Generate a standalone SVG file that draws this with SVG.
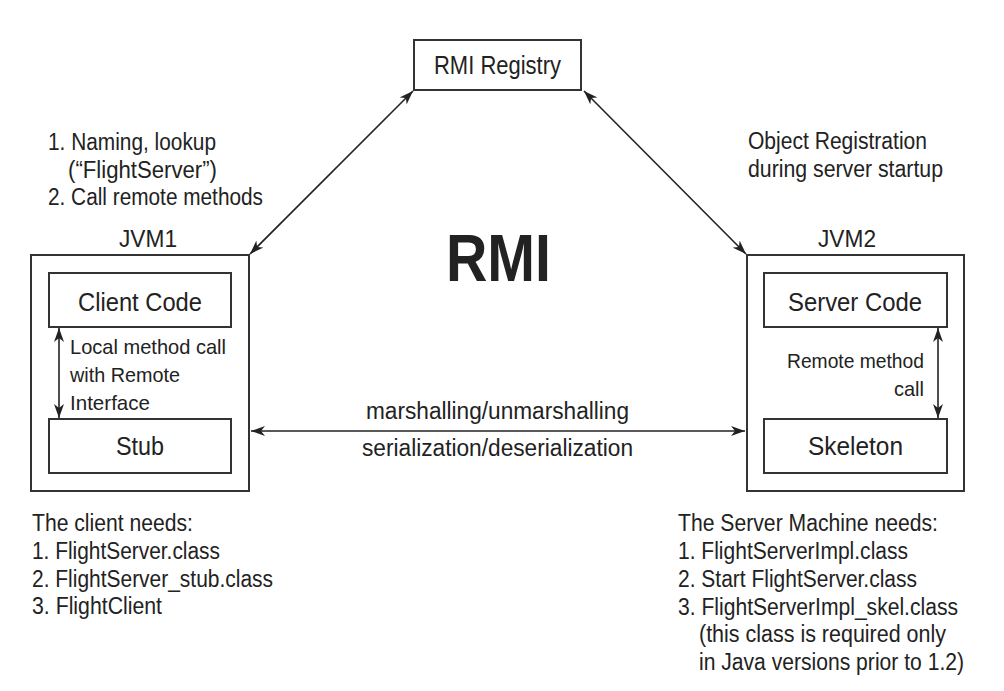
<svg xmlns="http://www.w3.org/2000/svg" width="1004" height="691" viewBox="0 0 1004 691">
<style>
text{font-family:"Liberation Sans Narrow","Liberation Sans",Arial,sans-serif;fill:#222;}
.t{font-size:23px;}
.s{font-size:21px;}
.b{font-size:25px;}
.box{fill:none;stroke:#333;stroke-width:2;}
.ln{stroke:#222;stroke-width:1.6;fill:none;marker-start:url(#ah);marker-end:url(#ah);}
</style>
<defs>
<marker id="ah" viewBox="0 0 14 10" refX="14" refY="5" markerWidth="14" markerHeight="10" markerUnits="userSpaceOnUse" orient="auto-start-reverse">
<path d="M0,0 L14,5 L0,10 L4,5 z" fill="#222"/>
</marker>
</defs>
<rect width="1004" height="691" fill="#fff"/>
<g id="registry">
<rect class="box" x="414" y="40" width="167" height="50"/>
<text class="b" x="434" y="74" textLength="127" lengthAdjust="spacingAndGlyphs">RMI Registry</text>
</g>
<g id="jvm1">
<rect class="box" x="31" y="255" width="218" height="236"/>
<text class="t" x="119" y="247" textLength="58" lengthAdjust="spacingAndGlyphs">JVM1</text>
</g>
<g id="client-code">
<rect class="box" x="49" y="273" width="182" height="54"/>
<text class="b" x="78" y="311" textLength="124" lengthAdjust="spacingAndGlyphs">Client Code</text>
</g>
<g id="stub">
<rect class="box" x="49" y="419" width="182" height="54"/>
<text class="b" x="116" y="455" textLength="48" lengthAdjust="spacingAndGlyphs">Stub</text>
</g>
<g id="jvm2">
<rect class="box" x="747" y="255" width="217" height="236"/>
<text class="t" x="818" y="247" textLength="58" lengthAdjust="spacingAndGlyphs">JVM2</text>
</g>
<g id="server-code">
<rect class="box" x="764" y="273" width="183" height="54"/>
<text class="b" x="788" y="311" textLength="134" lengthAdjust="spacingAndGlyphs">Server Code</text>
</g>
<g id="skeleton">
<rect class="box" x="764" y="419" width="183" height="54"/>
<text class="b" x="808" y="455" textLength="95" lengthAdjust="spacingAndGlyphs">Skeleton</text>
</g>
<g id="connectors">
<line class="ln" x1="250" y1="254" x2="413" y2="91"/>
<line class="ln" x1="584" y1="91" x2="746" y2="254"/>
<line class="ln" x1="59" y1="328" x2="59" y2="418"/>
<line class="ln" x1="938" y1="328" x2="938" y2="418"/>
<line class="ln" x1="251" y1="431" x2="745" y2="431"/>
</g>
<g id="labels">
<text class="t" x="48" y="150" textLength="168" lengthAdjust="spacingAndGlyphs">1. Naming, lookup</text>
<text class="t" x="68" y="178" textLength="149" lengthAdjust="spacingAndGlyphs">(“FlightServer”)</text>
<text class="t" x="48" y="205" textLength="215" lengthAdjust="spacingAndGlyphs">2. Call remote methods</text>
<text class="t" x="748" y="149" textLength="179" lengthAdjust="spacingAndGlyphs">Object Registration</text>
<text class="t" x="748" y="177" textLength="195" lengthAdjust="spacingAndGlyphs">during server startup</text>
<text x="446" y="281" style="font-size:66px;font-weight:bold" textLength="105" lengthAdjust="spacingAndGlyphs">RMI</text>
<text class="s" x="70" y="354" textLength="156" lengthAdjust="spacingAndGlyphs">Local method call</text>
<text class="s" x="70" y="382" textLength="110" lengthAdjust="spacingAndGlyphs">with Remote</text>
<text class="s" x="70" y="410" textLength="80" lengthAdjust="spacingAndGlyphs">Interface</text>
<text class="s" x="787" y="368" textLength="137" lengthAdjust="spacingAndGlyphs">Remote method</text>
<text class="s" x="894" y="396" textLength="30" lengthAdjust="spacingAndGlyphs">call</text>
<text class="t" x="366" y="419" textLength="263" lengthAdjust="spacingAndGlyphs">marshalling/unmarshalling</text>
<text class="t" x="362" y="456" textLength="271" lengthAdjust="spacingAndGlyphs">serialization/deserialization</text>
<text class="t" x="32" y="531" textLength="161" lengthAdjust="spacingAndGlyphs">The client needs:</text>
<text class="t" x="32" y="559" textLength="188" lengthAdjust="spacingAndGlyphs">1. FlightServer.class</text>
<text class="t" x="32" y="587" textLength="241" lengthAdjust="spacingAndGlyphs">2. FlightServer_stub.class</text>
<text class="t" x="32" y="614" textLength="130" lengthAdjust="spacingAndGlyphs">3. FlightClient</text>
<text class="t" x="678" y="531" textLength="260" lengthAdjust="spacingAndGlyphs">The Server Machine needs:</text>
<text class="t" x="678" y="559" textLength="230" lengthAdjust="spacingAndGlyphs">1. FlightServerImpl.class</text>
<text class="t" x="678" y="587" textLength="239" lengthAdjust="spacingAndGlyphs">2. Start FlightServer.class</text>
<text class="t" x="678" y="615" textLength="280" lengthAdjust="spacingAndGlyphs">3. FlightServerImpl_skel.class</text>
<text class="t" x="699" y="642" textLength="247" lengthAdjust="spacingAndGlyphs">(this class is required only</text>
<text class="t" x="699" y="670" textLength="265" lengthAdjust="spacingAndGlyphs">in Java versions prior to 1.2)</text>
</g>
</svg>
